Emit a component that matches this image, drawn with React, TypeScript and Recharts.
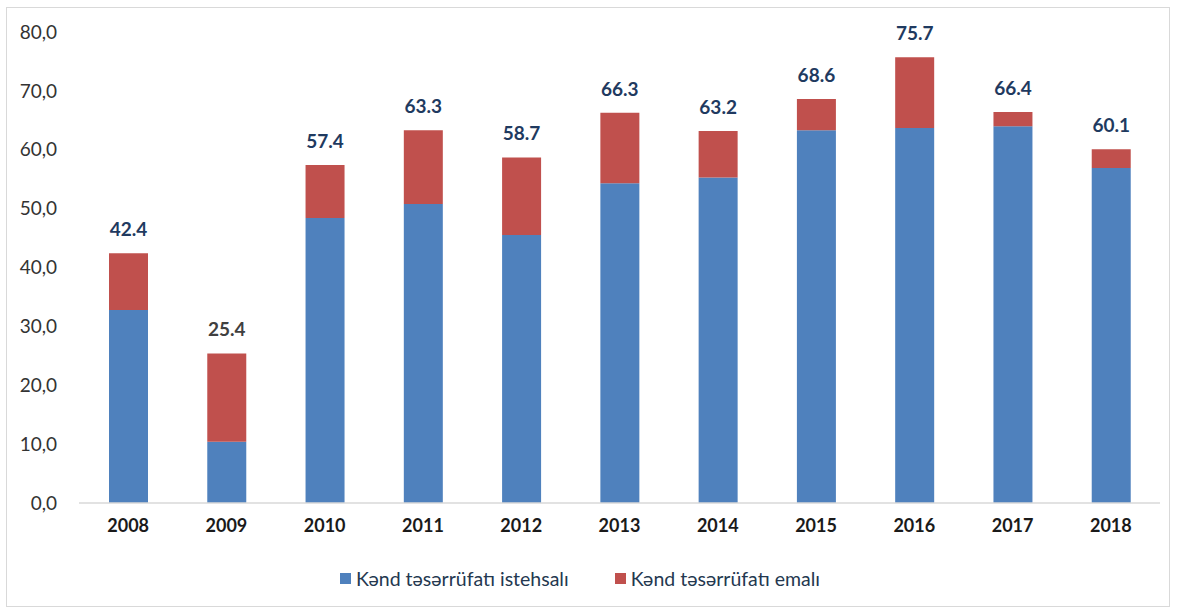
import React from 'react';
import { BarChart, Bar, XAxis, YAxis, Legend, LabelList, CartesianGrid } from 'recharts';

const years = ['2008', '2009', '2010', '2011', '2012', '2013', '2014', '2015', '2016', '2017', '2018'];
const production = [32.8, 10.4, 48.4, 50.8, 45.5, 54.3, 55.3, 63.3, 63.7, 64.0, 56.9];
const processing = [9.6, 15.0, 9.0, 12.5, 13.2, 12.0, 7.9, 5.3, 12.0, 2.4, 3.2];
const totals = [42.4, 25.4, 57.4, 63.3, 58.7, 66.3, 63.2, 68.6, 75.7, 66.4, 60.1];
const yTicks = [0, 10, 20, 30, 40, 50, 60, 70, 80];

const data = years.map((year, i) => ({
  year,
  production: production[i],
  processing: processing[i],
  total: totals[i],
}));

const FONT = 'Lato, "Open Sans", sans-serif';

// data labels: 2009 label is grey in the original, the rest are navy
const TotalLabel = (props: any) => {
  const { x, y, width, index } = props;
  const fill = index === 1 ? '#404040' : '#1F3A60';
  return (
    <text
      x={x + width / 2}
      y={y - 17}
      textAnchor="middle"
      fontFamily={FONT}
      fontWeight={700}
      fontSize={19}
      fill={fill}
    >
      {totals[index].toFixed(1)}
    </text>
  );
};

const renderLegend = () => (
  <div
    style={{
      display: 'flex',
      justifyContent: 'center',
      alignItems: 'center',
      fontFamily: FONT,
      fontSize: 19.5,
      color: '#243850',
      height: 24,
    }}
  >
    <span style={{ display: 'inline-block', width: 11, height: 11, background: '#4F81BD', marginRight: 5 }} />
    <span style={{ marginRight: 46 }}>Kənd təsərrüfatı istehsalı</span>
    <span style={{ display: 'inline-block', width: 11, height: 11, background: '#C0504D', marginRight: 5 }} />
    <span>Kənd təsərrüfatı emalı</span>
  </div>
);

export default function App() {
  return (
    <div style={{ position: 'absolute', left: 0, top: 0, width: 1177, height: 610, background: '#fff' }}>
      <div
        style={{
          position: 'absolute',
          left: 6,
          top: 7,
          width: 1164,
          height: 600,
          border: '1px solid #d9d9d9',
          boxSizing: 'border-box',
        }}
      />
      <BarChart
        width={1177}
        height={610}
        data={data}
        margin={{ top: 32, right: 17, left: 0, bottom: 20 }}
        barSize={39}
      >
        <CartesianGrid horizontal={false} vertical={false} />
        <XAxis
          dataKey="year"
          height={63}
          tickLine={false}
          axisLine={{ stroke: '#d9d9d9', strokeWidth: 1.5 }}
          tick={{ fontFamily: FONT, fontWeight: 700, fontSize: 18, fill: '#1a1a1a' }}
          tickMargin={10}
        />
        <YAxis
          width={79}
          domain={[0, 80]}
          ticks={yTicks}
          interval={0}
          axisLine={false}
          tickLine={false}
          tickFormatter={(v: number) => v.toFixed(1).replace('.', ',')}
          tick={{ fontFamily: FONT, fontSize: 19, fill: '#333333' }}
          tickMargin={16}
        />
        <Legend verticalAlign="bottom" content={renderLegend} />
        <Bar dataKey="production" stackId="a" fill="#4F81BD" isAnimationActive={false} />
        <Bar dataKey="processing" stackId="a" fill="#C0504D" isAnimationActive={false}>
          <LabelList dataKey="total" content={TotalLabel} />
        </Bar>
      </BarChart>
    </div>
  );
}
